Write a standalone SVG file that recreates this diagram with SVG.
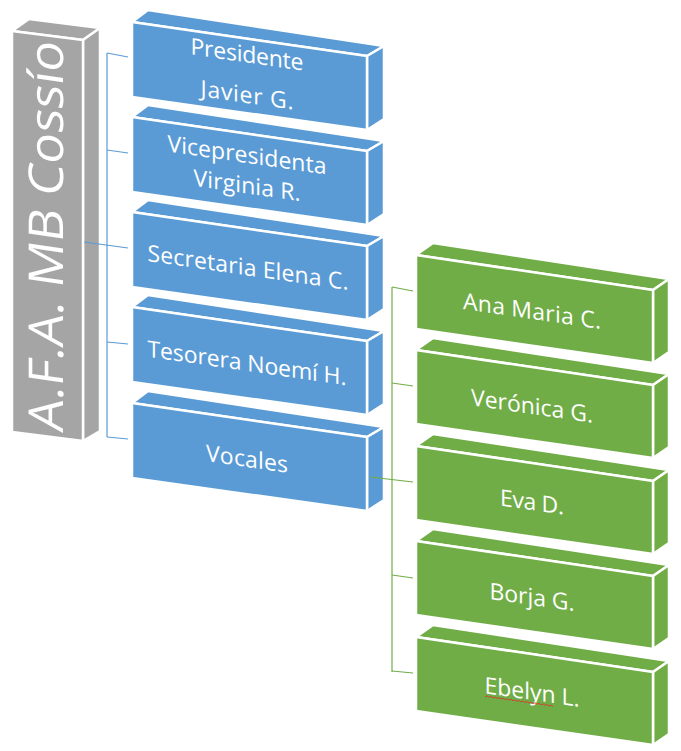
<svg xmlns="http://www.w3.org/2000/svg" width="681" height="751" viewBox="0 0 681 751">
<style>
.face{stroke:#FFFFFF;stroke-width:2.5;stroke-linejoin:round}
.gray{fill:#A5A5A5}
.blue{fill:#5B9BD5}
.green{fill:#70AD47}
.lbl{font-family:"Open Sans","Liberation Sans",sans-serif;font-size:23px;fill:#FFFFFF;text-anchor:middle}
.title{font-family:"Open Sans","Liberation Sans",sans-serif;font-weight:400;font-size:48px;fill:#FFFFFF}
.cb{fill:none;stroke:#5B9BD5;stroke-width:1.2}
.cg{fill:none;stroke:#70AD47;stroke-width:1.2}
</style>
<defs>
<g id="bb">
<polygon class="face blue" points="132,0 148,-12 384,24 367,34"/>
<polygon class="face blue" points="367,34 384,24 384,97 367,108"/>
<polygon class="face blue" points="132,0 367,34 367,108 132,75"/>
</g>
<g id="gb">
<polygon class="face green" points="416,0 433,-12 669,24 653,35"/>
<polygon class="face green" points="653,35 669,24 669,97 653,108"/>
<polygon class="face green" points="416,0 653,35 653,108 416,74"/>
</g>
</defs>

<g id="root">
<polygon class="face gray" points="12,31 29,19 100,28 83,40"/>
<polygon class="face gray" points="83,40 100,28 100,431 83,441"/>
<polygon class="face gray" points="12,31 83,40 83,441 12,432"/>
<g transform="translate(63,433) skewY(8.2) rotate(-90)"><text class="title" x="0" y="0" textLength="390" lengthAdjust="spacingAndGlyphs">A.F.A. MB Cossío</text></g>
</g>

<g id="presidente">
<use href="#bb" transform="translate(0,22)"/>
<g transform="translate(247,62.5) skewY(8.2)"><text class="lbl" textLength="113">Presidente</text></g>
<g transform="translate(247,103) skewY(8.2)"><text class="lbl" textLength="93">Javier G.</text></g>
</g>

<g id="vicepresidenta">
<use href="#bb" transform="translate(0,117)"/>
<g transform="translate(247,163) skewY(8.2)"><text class="lbl" textLength="159">Vicepresidenta</text></g>
<g transform="translate(247,193.5) skewY(8.2)"><text class="lbl" textLength="107">Virginia R.</text></g>
</g>

<g id="secretaria">
<use href="#bb" transform="translate(0,212)"/>
<g transform="translate(248,275.5) skewY(8.2)"><text class="lbl" textLength="201">Secretaria Elena C.</text></g>
</g>

<g id="tesorera">
<use href="#bb" transform="translate(0,307)"/>
<g transform="translate(247,371) skewY(8.2)"><text class="lbl" textLength="199">Tesorera Noemí H.</text></g>
</g>

<g id="vocales">
<use href="#bb" transform="translate(0,403)"/>
<g transform="translate(247,467) skewY(8.2)"><text class="lbl" textLength="82">Vocales</text></g>
</g>

<g id="ana">
<use href="#gb" transform="translate(0,255)"/>
<g transform="translate(532,319) skewY(8.2)"><text class="lbl" textLength="138">Ana Maria C.</text></g>
</g>

<g id="veronica">
<use href="#gb" transform="translate(0,350)"/>
<g transform="translate(532,414) skewY(8.2)"><text class="lbl" textLength="122">Verónica G.</text></g>
</g>

<g id="eva">
<use href="#gb" transform="translate(0,446)"/>
<g transform="translate(532,510) skewY(8.2)"><text class="lbl" textLength="64">Eva D.</text></g>
</g>

<g id="borja">
<use href="#gb" transform="translate(0,541)"/>
<g transform="translate(532,605) skewY(8.2)"><text class="lbl" textLength="85">Borja G.</text></g>
</g>

<g id="ebelyn">
<use href="#gb" transform="translate(0,637)"/>
<g transform="translate(532,700) skewY(8.2)"><text class="lbl" textLength="95">Ebelyn L.</text>
<path d="M-47,3.5 l2,-1.2 l2,1.2 l2,-1.2 l2,1.2 l2,-1.2 l2,1.2 l2,-1.2 l2,1.2 l2,-1.2 l2,1.2 l2,-1.2 l2,1.2 l2,-1.2 l2,1.2 l2,-1.2 l2,1.2 l2,-1.2 l2,1.2 l2,-1.2 l2,1.2 l2,-1.2 l2,1.2 l2,-1.2 l2,1.2 l2,-1.2 l2,1.2 l2,-1.2 l2,1.2 l2,-1.2 l2,1.2 l2,-1.2 l2,1.2 l2,-1.2 l2,1.2" fill="none" stroke="#E0302A" stroke-width="0.8"/>
</g>
</g>

<g id="connectors">
<path class="cb" d="M84,242 L128,248"/>
<path class="cb" d="M107,53 L107,437"/>
<path class="cb" d="M107,53 L128,57"/>
<path class="cb" d="M107,150 L128,153"/>
<path class="cb" d="M107,342 L128,344"/>
<path class="cb" d="M107,437 L128,439"/>
<path class="cg" d="M392,287 L392,672"/>
<path class="cg" d="M392,287 L413,291"/>
<path class="cg" d="M392,383 L413,386"/>
<path class="cg" d="M370,477 L413,482"/>
<path class="cg" d="M392,575 L413,578"/>
<path class="cg" d="M392,671 L413,673"/>
</g>
</svg>
